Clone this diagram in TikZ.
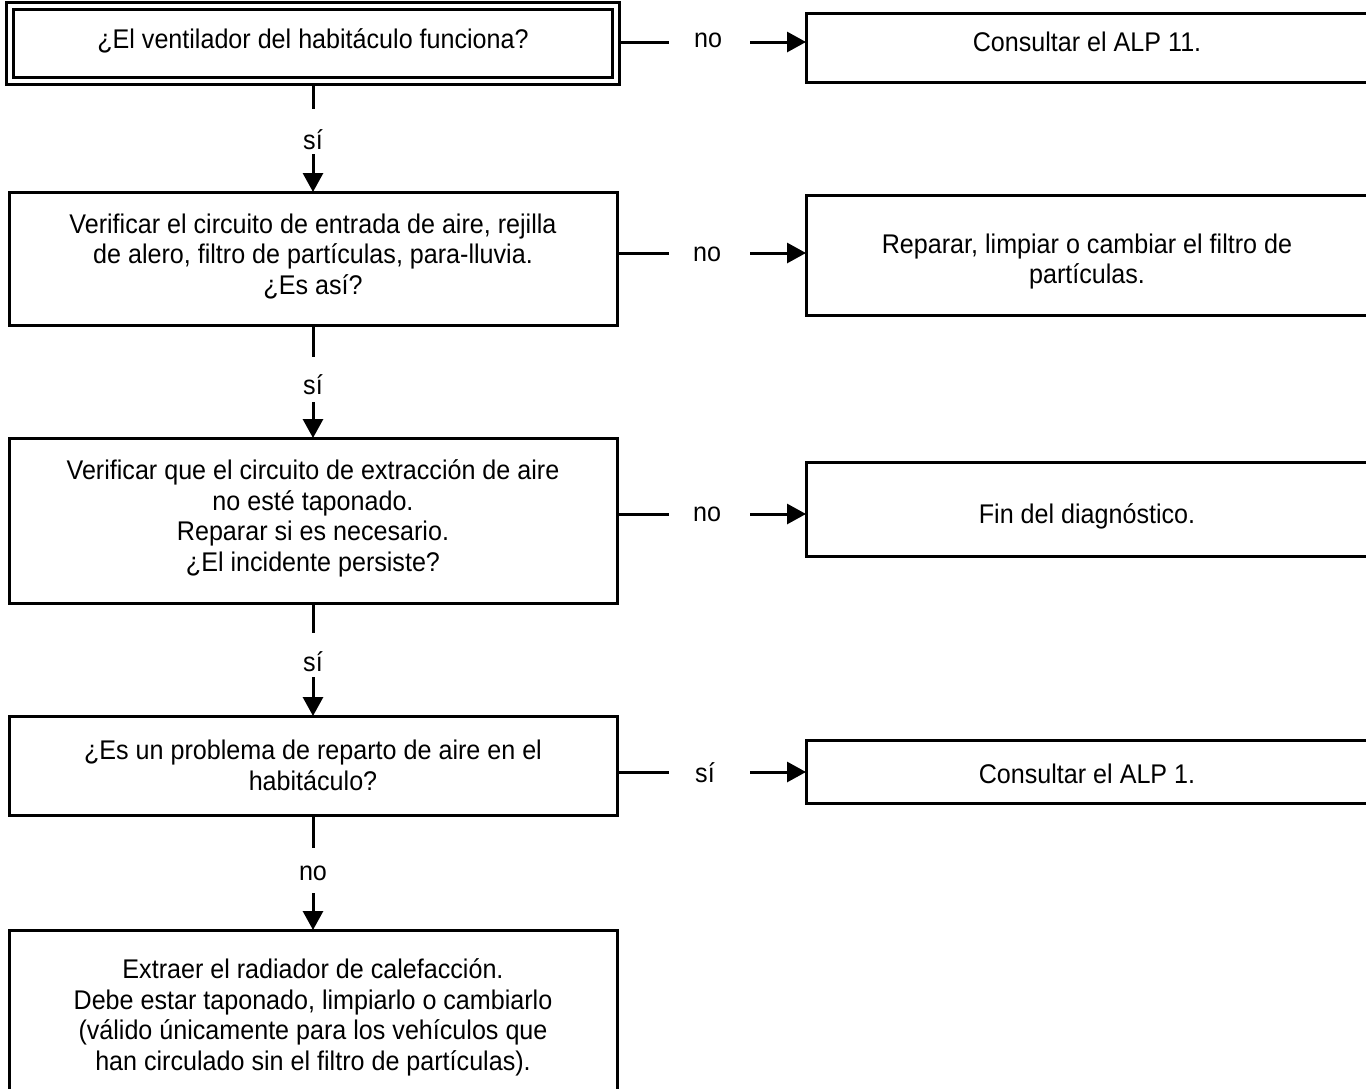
\documentclass[tikz,border=0pt]{standalone}
\usepackage{fontspec}
\setmainfont{Liberation Sans}[FakeStretch=0.93]
\usetikzlibrary{arrows.meta}
\begin{document}
\begin{tikzpicture}[x=0.5pt,y=-0.5pt,
  box/.style={draw, line width=1.5pt, inner sep=0pt, outer sep=0pt, rectangle},
  dbox/.style={box, double=white, double distance=2pt, outer sep=2.5pt},
  txt/.style={align=center, inner sep=0pt, font=\fontsize{13.5}{15.25}\selectfont},
  conn/.style={line width=1.5pt},
  arr/.style={line width=1.5pt, -{Triangle[length=9.5pt,width=10pt]}},
  lbl/.style={inner sep=0pt, font=\fontsize{13.5}{15.25}\selectfont}]
\clip (0,0) rectangle (1366,1088);
\useasboundingbox (0,0) rectangle (1366,1088);
% left column boxes
\node[dbox, minimum width=303pt, minimum height=37.5pt] (q1) at (313,43.5) {};
\node[box, minimum width=304pt, minimum height=66.5pt] (q2) at (313,258.5) {};
\node[box, minimum width=304pt, minimum height=82.5pt] (q3) at (313,520.5) {};
\node[box, minimum width=304pt, minimum height=49.5pt] (q4) at (313,765.5) {};
\node[box, minimum width=304pt, minimum height=87.5pt] (q5) at (313,1017.5) {};
% right column boxes
\node[box, minimum width=283pt, minimum height=34.5pt] (r1) at (1089,47.5) {};
\node[box, minimum width=283pt, minimum height=60pt] (r2) at (1089,255) {};
\node[box, minimum width=283pt, minimum height=47pt] (r3) at (1089,509) {};
\node[box, minimum width=283pt, minimum height=31.5pt] (r4) at (1089,771.5) {};
% texts
\node[txt] (t1) at (313,41) {¿El ventilador del habitáculo funciona?};
\node[txt] (t2) at (313,256.5) {Verificar el circuito de entrada de aire, rejilla\\de alero, filtro de partículas, para-lluvia.\\¿Es así?};
\node[txt] (t3) at (313,518.5) {Verificar que el circuito de extracción de aire\\no esté taponado.\\Reparar si es necesario.\\¿El incidente persiste?};
\node[txt] (t4) at (313,765.5) {¿Es un problema de reparto de aire en el\\habitáculo?};
\node[txt] (t5) at (313,1017.5) {Extraer el radiador de calefacción.\\Debe estar taponado, limpiarlo o cambiarlo\\(válido únicamente para los vehículos que\\han circulado sin el filtro de partículas).};
\node[txt] (s1) at (1087,42) {Consultar el ALP 11.};
\node[txt] (s2) at (1087,261.5) {Reparar, limpiar o cambiar el filtro de\\partículas.};
\node[txt] (s3) at (1087,516) {Fin del diagnóstico.};
\node[txt] (s4) at (1087,774) {Consultar el ALP 1.};
% horizontal connectors
\node[lbl] (n1) at (708,40) {no};
\coordinate (h1a) at (669,42); \coordinate (h1b) at (750,42);
\draw[conn] (q1.east |- h1a) -- (h1a);
\draw[arr] (h1b) -- (r1.west |- h1b);
\node[lbl] (n2) at (707,254) {no};
\coordinate (h2a) at (669,253); \coordinate (h2b) at (750,253);
\draw[conn] (q2.east |- h2a) -- (h2a);
\draw[arr] (h2b) -- (r2.west |- h2b);
\node[lbl] (n3) at (707,514) {no};
\coordinate (h3a) at (669,514); \coordinate (h3b) at (750,514);
\draw[conn] (q3.east |- h3a) -- (h3a);
\draw[arr] (h3b) -- (r3.west |- h3b);
\node[lbl] (n4) at (705,773) {sí};
\coordinate (h4a) at (669,772); \coordinate (h4b) at (750,772);
\draw[conn] (q4.east |- h4a) -- (h4a);
\draw[arr] (h4b) -- (r4.west |- h4b);
% vertical connectors
\node[lbl] (y1) at (313,140) {sí};
\coordinate (v1a) at (313,109); \coordinate (v1b) at (313,154);
\draw[conn] (q1.south) -- (v1a);
\draw[arr] (v1b) -- (q2.north);
\node[lbl] (y2) at (313,385) {sí};
\coordinate (v2a) at (313,357); \coordinate (v2b) at (313,402);
\draw[conn] (q2.south) -- (v2a);
\draw[arr] (v2b) -- (q3.north);
\node[lbl] (y3) at (313,662) {sí};
\coordinate (v3a) at (313,633); \coordinate (v3b) at (313,677);
\draw[conn] (q3.south) -- (v3a);
\draw[arr] (v3b) -- (q4.north);
\node[lbl] (y4) at (313,873) {no};
\coordinate (v4a) at (313,848); \coordinate (v4b) at (313,893);
\draw[conn] (q4.south) -- (v4a);
\draw[arr] (v4b) -- (q5.north);
\end{tikzpicture}
\end{document}
